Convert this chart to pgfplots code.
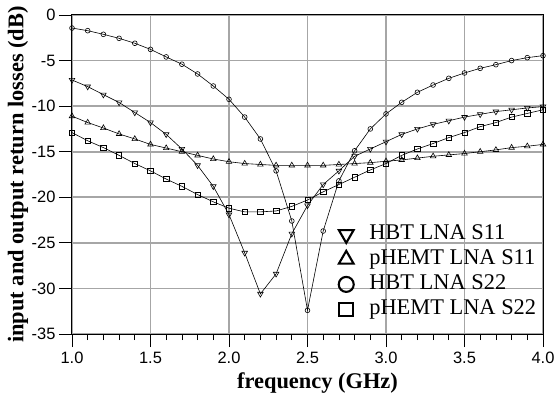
\documentclass[border=0pt]{standalone}
\usepackage{pgfplots}
\pgfplotsset{compat=1.18}
\usepackage{fontspec}
\setmainfont{Liberation Serif}
\newfontfamily\arial{Liberation Sans}
\begin{document}
\begin{tikzpicture}
\begin{axis}[
  name=ax,
  scale only axis,
  width=471bp, height=319bp,
  xmin=1, xmax=4, ymin=-35, ymax=0,
  xtick={1,1.5,2,2.5,3,3.5,4},
  xticklabels={1.0,1.5,2.0,2.5,3.0,3.5,4.0},
  ytick={-35,-30,-25,-20,-15,-10,-5,0},
  yticklabels={-35,-30,-25,-20,-15,-10,-5,0},
  minor x tick num=4,
  tick align=outside,
  major tick length=13bp,
  minor tick length=6bp,
  tick style={black, line width=0.8bp},
  xtick pos=bottom, ytick pos=left,
  xmajorgrids=true, ymajorgrids=true,
  major grid style={draw=black!35, line width=1.6bp},
  axis line style={black, line width=1bp},
  ticklabel style={font=\arial\fontsize{16.5}{18}\selectfont},
  xticklabel style={yshift=-2bp},
  /pgf/number format/assume math mode=true,
  xlabel={\bfseries frequency (GHz)},
  ylabel={\bfseries input and output return losses (dB)},
  xlabel style={font=\fontsize{22.5}{24}\selectfont, at={([xshift=10bp,yshift=-49bp]rel axis cs:0.5,0)}, anchor=center},
  ylabel style={font=\fontsize{22.5}{24}\selectfont, at={([xshift=-54bp]rel axis cs:0,0.5)}, anchor=center, rotate=0},
  legend style={draw=none, fill=none, inner sep=0pt,
    at={(rel axis cs:0.5605,0.352)}, anchor=north west,
    font=\fontsize{22.5}{24}\selectfont,
    nodes={inner sep=1bp, text height=17bp, text depth=6bp}},
  legend cell align=left,
  legend image code/.code={\draw[#1] plot coordinates {(0bp,0bp)}; \path (-9bp,0bp) (21bp,0bp);},
]
\addplot[black, line width=0.6bp, sharp plot, mark=triangle, mark size=3.2bp, mark options={rotate=180, solid}, forget plot] coordinates {
(1.0,-7.13)(1.1,-7.86)(1.2,-8.74)(1.3,-9.6)(1.4,-10.7)(1.5,-11.8)(1.6,-13.1)(1.7,-14.7)(1.8,-16.5)(1.9,-18.8)
(2.0,-21.9)(2.1,-26.1)(2.2,-30.6)(2.3,-28.4)(2.4,-24.0)(2.5,-20.9)(2.6,-18.6)(2.7,-17.1)(2.8,-15.5)(2.9,-14.7)
(3.0,-13.9)(3.1,-13.1)(3.2,-12.5)(3.3,-12.0)(3.4,-11.6)(3.5,-11.2)(3.6,-10.9)(3.7,-10.6)(3.8,-10.4)(3.9,-10.2)(4.0,-10.05)};
\addplot[black, line width=0.6bp, sharp plot, mark=triangle, mark size=3.2bp, mark options={solid}, forget plot] coordinates {
(1.0,-11.1)(1.1,-11.8)(1.2,-12.4)(1.3,-13.05)(1.4,-13.6)(1.5,-14.2)(1.6,-14.6)(1.7,-15.0)(1.8,-15.4)(1.9,-15.8)
(2.0,-16.1)(2.1,-16.3)(2.2,-16.4)(2.3,-16.5)(2.4,-16.5)(2.5,-16.5)(2.6,-16.5)(2.7,-16.4)(2.8,-16.3)(2.9,-16.2)
(3.0,-16.05)(3.1,-15.9)(3.2,-15.7)(3.3,-15.5)(3.4,-15.35)(3.5,-15.2)(3.6,-15.0)(3.7,-14.8)(3.8,-14.55)(3.9,-14.4)(4.0,-14.2)};
\addplot[black, line width=0.6bp, sharp plot, mark=o, mark size=2.4bp, mark options={solid}, forget plot] coordinates {
(1.0,-1.43)(1.1,-1.72)(1.2,-2.12)(1.3,-2.56)(1.4,-3.1)(1.5,-3.77)(1.6,-4.6)(1.7,-5.4)(1.8,-6.47)(1.9,-7.79)
(2.0,-9.25)(2.1,-11.2)(2.2,-13.6)(2.3,-17.1)(2.4,-22.6)(2.5,-32.4)(2.6,-23.7)(2.7,-18.2)(2.8,-14.9)(2.9,-12.5)
(3.0,-10.85)(3.1,-9.58)(3.2,-8.48)(3.3,-7.68)(3.4,-6.95)(3.5,-6.36)(3.6,-5.85)(3.7,-5.45)(3.8,-5.0)(3.9,-4.68)(4.0,-4.46)};
\addplot[black, line width=0.6bp, sharp plot, mark=square, mark size=2.7bp, mark options={solid}, forget plot] coordinates {
(1.0,-12.9)(1.1,-13.8)(1.2,-14.55)(1.3,-15.4)(1.4,-16.3)(1.5,-17.1)(1.6,-18.0)(1.7,-18.8)(1.8,-19.7)(1.9,-20.5)
(2.0,-21.2)(2.1,-21.6)(2.2,-21.6)(2.3,-21.5)(2.4,-21.0)(2.5,-20.3)(2.6,-19.4)(2.7,-18.6)(2.8,-17.8)(2.9,-17.0)
(3.0,-16.3)(3.1,-15.4)(3.2,-14.7)(3.3,-14.1)(3.4,-13.45)(3.5,-12.9)(3.6,-12.25)(3.7,-11.8)(3.8,-11.2)(3.9,-10.8)(4.0,-10.4)};
\addlegendimage{black, line width=2.1bp, mark=triangle, mark size=8.5bp, mark options={rotate=180}}
\addlegendentry{HBT LNA S11}
\addlegendimage{black, line width=2.1bp, mark=triangle, mark size=8.5bp}
\addlegendentry{pHEMT LNA S11}
\addlegendimage{black, line width=2.1bp, mark=o, mark size=7.5bp}
\addlegendentry{HBT LNA S22}
\addlegendimage{black, line width=2.1bp, mark=square, mark size=6.8bp}
\addlegendentry{pHEMT LNA S22}
\end{axis}
\pgfresetboundingbox
\path ([shift={(-72bp,-60bp)}]ax.south west) rectangle ([shift={(15bp,15bp)}]ax.north east);
\end{tikzpicture}
\end{document}
